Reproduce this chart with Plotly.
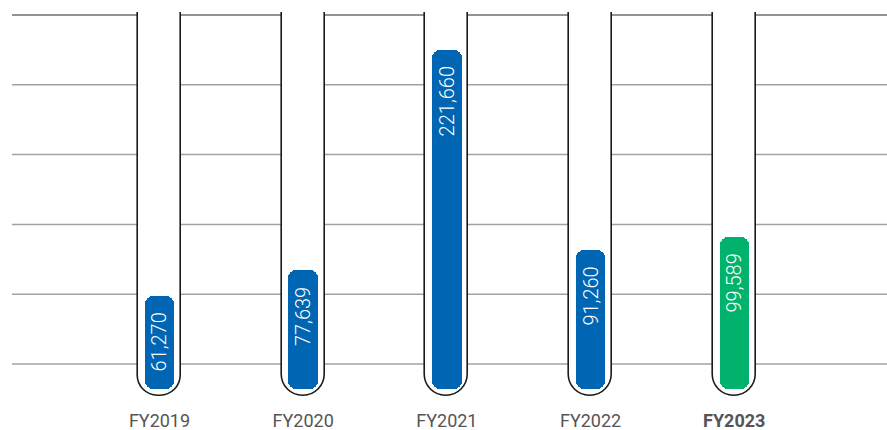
import plotly.graph_objects as go

# Yearly totals
years = ["FY2019", "FY2020", "FY2021", "FY2022", "FY2023"]
values = [61270, 77639, 221660, 91260, 99589]
value_labels = ["61,270", "77,639", "221,660", "91,260", "99,589"]
tick_labels = ["FY2019", "FY2020", "FY2021", "FY2022", "<b>FY2023</b>"]
grid_levels = [244200, 198700, 153200, 107600, 62100, 16600]

BLUE = "#0066b3"
GREEN = "#00b26b"
bar_colors = [BLUE, BLUE, BLUE, BLUE, GREEN]

# Axis extents
Y_MIN, Y_MAX = -6850, 246130
X_MIN, X_MAX = -1.0264, 5.063
TUBE_TOP = 400000          # beyond the plot top, so the tube is open
TUBE_BOTTOM = -4240
TUBE_WIDTH = 0.30
BAR_WIDTH = 0.205

xs = list(range(len(years)))

fig = go.Figure()

# Gridlines
for i, g in enumerate(grid_levels):
    fig.add_shape(
        type="line", xref="paper", yref="y", x0=0, x1=1, y0=g, y1=g,
        line=dict(color="#6f6f6f" if i == 0 else "#a2a2a2", width=1.6),
        layer="below",
    )

# Tubes: white, outlined, rounded at the bottom
fig.add_trace(go.Bar(
    x=xs, y=[TUBE_BOTTOM - TUBE_TOP] * len(xs), base=[TUBE_TOP] * len(xs),
    width=TUBE_WIDTH,
    marker=dict(color="white", line=dict(color="#1a1a1a", width=1.6),
                cornerradius="50%"),
    hoverinfo="skip", showlegend=False,
))

# Value bars: upper half rounds the top, lower half rounds the bottom
fig.add_trace(go.Bar(
    x=xs, y=[v * 0.5 for v in values], base=[v * 0.5 for v in values],
    width=BAR_WIDTH,
    marker=dict(color=bar_colors, line=dict(width=0), cornerradius=8),
    hoverinfo="skip", showlegend=False,
))
fig.add_trace(go.Bar(
    x=xs, y=[-v * 0.6 for v in values], base=[v * 0.6 for v in values],
    width=BAR_WIDTH,
    marker=dict(color=bar_colors, line=dict(width=0), cornerradius=8),
    hoverinfo="skip", showlegend=False,
))

for x, v, lab in zip(xs, values, value_labels):
    fig.add_annotation(
        x=x, y=v, xref="x", yref="y", text=lab, showarrow=False,
        textangle=-90, yanchor="top", xanchor="center", yshift=-15,
        font=dict(family="Roboto", size=20, color="white", weight=300),
    )

fig.update_layout(
    width=887, height=430,
    margin=dict(l=12, r=0, t=12, b=30),
    paper_bgcolor="white", plot_bgcolor="white",
    barmode="overlay", bargap=0,
    showlegend=False,
    xaxis=dict(
        range=[X_MIN, X_MAX], tickvals=xs, ticktext=tick_labels,
        showgrid=False, zeroline=False, showline=False, ticks="",
        ticklabelstandoff=8,
        tickfont=dict(family="Roboto", size=18, color="#555555"),
        fixedrange=True,
    ),
    yaxis=dict(
        range=[Y_MIN, Y_MAX], showgrid=False, zeroline=False,
        showticklabels=False, showline=False, ticks="", fixedrange=True,
    ),
)

fig.write_html("out.html")
